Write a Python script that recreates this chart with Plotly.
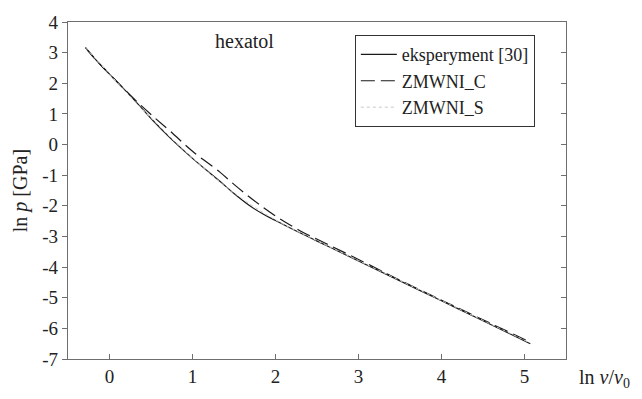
import plotly.graph_objects as go

# experiment [30]
exp_x = [-0.29, -0.15, 0.0, 0.3, 0.5, 0.73, 1.0, 1.33, 1.5, 1.69, 1.85, 2.0, 2.3, 2.6, 3.0, 3.5, 4.0, 4.5, 5.07]
exp_y = [3.16, 2.72, 2.3, 1.45, 0.85, 0.22, -0.45, -1.2, -1.6, -2.0, -2.27, -2.48, -2.89, -3.28, -3.8, -4.45, -5.1, -5.75, -6.5]

# ZMWNI_C
c_x = [-0.29, -0.15, 0.0, 0.3, 0.5, 0.73, 1.0, 1.33, 1.5, 1.69, 1.85, 2.0, 2.3, 2.6, 3.0, 3.5, 4.0, 4.5, 5.07]
c_y = [3.16, 2.72, 2.3, 1.48, 0.98, 0.44, -0.22, -0.9, -1.3, -1.72, -2.05, -2.33, -2.82, -3.22, -3.75, -4.43, -5.08, -5.72, -6.45]

# ZMWNI_S
s_x = [-0.29, 0.0, 0.5, 1.0, 1.5, 2.0, 2.5, 3.0, 3.5, 4.0, 4.5, 5.07]
s_y = [3.16, 2.3, 0.86, -0.44, -1.58, -2.46, -3.14, -3.79, -4.44, -5.09, -5.74, -6.48]

x_ticks = [0, 1, 2, 3, 4, 5]
x_ticktext = ["0", "1", "2", "3", "4", "5"]
y_ticks = [4, 3, 2, 1, 0, -1, -2, -3, -4, -5, -6, -7]
y_ticktext = ["4", "3", "2", "1", "0", "-1", "-2", "-3", "-4", "-5", "-6", "-7"]

FONT = "'Liberation Serif', 'Times New Roman', Times, serif"
AX = "#6e6e6e"

fig = go.Figure()
fig.add_trace(go.Scatter(x=exp_x, y=exp_y, mode="lines", name="eksperyment [30]",
                         line=dict(color="#1a1a1a", width=1.2, shape="spline")))
fig.add_trace(go.Scatter(x=c_x, y=c_y, mode="lines", name="ZMWNI_C",
                         line=dict(color="#1a1a1a", width=1.2, dash="14px,6px", shape="spline")))
fig.add_trace(go.Scatter(x=s_x, y=s_y, mode="lines", name="ZMWNI_S",
                         line=dict(color="#c8c8c8", width=1, dash="dot", shape="spline")))
# invisible trace for right-side inward ticks
fig.add_trace(go.Scatter(x=[None], y=[None], yaxis="y2", showlegend=False, hoverinfo="skip"))

fig.update_layout(
    width=642, height=399,
    margin=dict(l=68, r=76, t=16, b=35),
    paper_bgcolor="white", plot_bgcolor="white",
    font=dict(family=FONT, color="#222", size=19),
    showlegend=True,
    legend=dict(x=0.576, y=0.961, xanchor="left", yanchor="top",
                bordercolor="#333", borderwidth=1, bgcolor="white",
                font=dict(family=FONT, size=18), tracegroupgap=0,
                itemwidth=36),
    xaxis=dict(range=[-0.5, 5.5], tickvals=x_ticks, ticktext=x_ticktext, ticks="inside", ticklen=5,
               tickcolor=AX, showline=True, linecolor=AX, linewidth=1.2, mirror=True,
               showgrid=False, zeroline=False, tickfont=dict(family=FONT, size=19, color="#222")),
    yaxis=dict(range=[-7, 4], tickvals=y_ticks, ticktext=y_ticktext, ticks="outside", ticklen=5,
               tickcolor=AX, showline=True, linecolor=AX, linewidth=1.2, mirror=True,
               showgrid=False, zeroline=False, tickfont=dict(family=FONT, size=19, color="#222")),
    yaxis2=dict(range=[-7, 4], tickvals=y_ticks, overlaying="y", side="right",
                ticks="inside", ticklen=5, tickcolor=AX, showticklabels=False,
                showline=False, showgrid=False, zeroline=False),
    annotations=[
        dict(text="hexatol", x=0.355, y=0.944, xref="paper", yref="paper",
             showarrow=False, font=dict(family=FONT, size=20), xanchor="center", yanchor="middle"),
        dict(text="ln <i>ν</i>/<i>ν</i><sub>0</sub>", x=1.022, y=-0.058, xref="paper", yref="paper",
             showarrow=False, font=dict(family=FONT, size=20), xanchor="left", yanchor="middle"),
        dict(text="ln <i>p</i> [GPa]", x=-0.095, y=0.5, xref="paper", yref="paper",
             showarrow=False, font=dict(family=FONT, size=20), textangle=-90,
             xanchor="center", yanchor="middle"),
    ],
)

fig.write_html("out.html")
